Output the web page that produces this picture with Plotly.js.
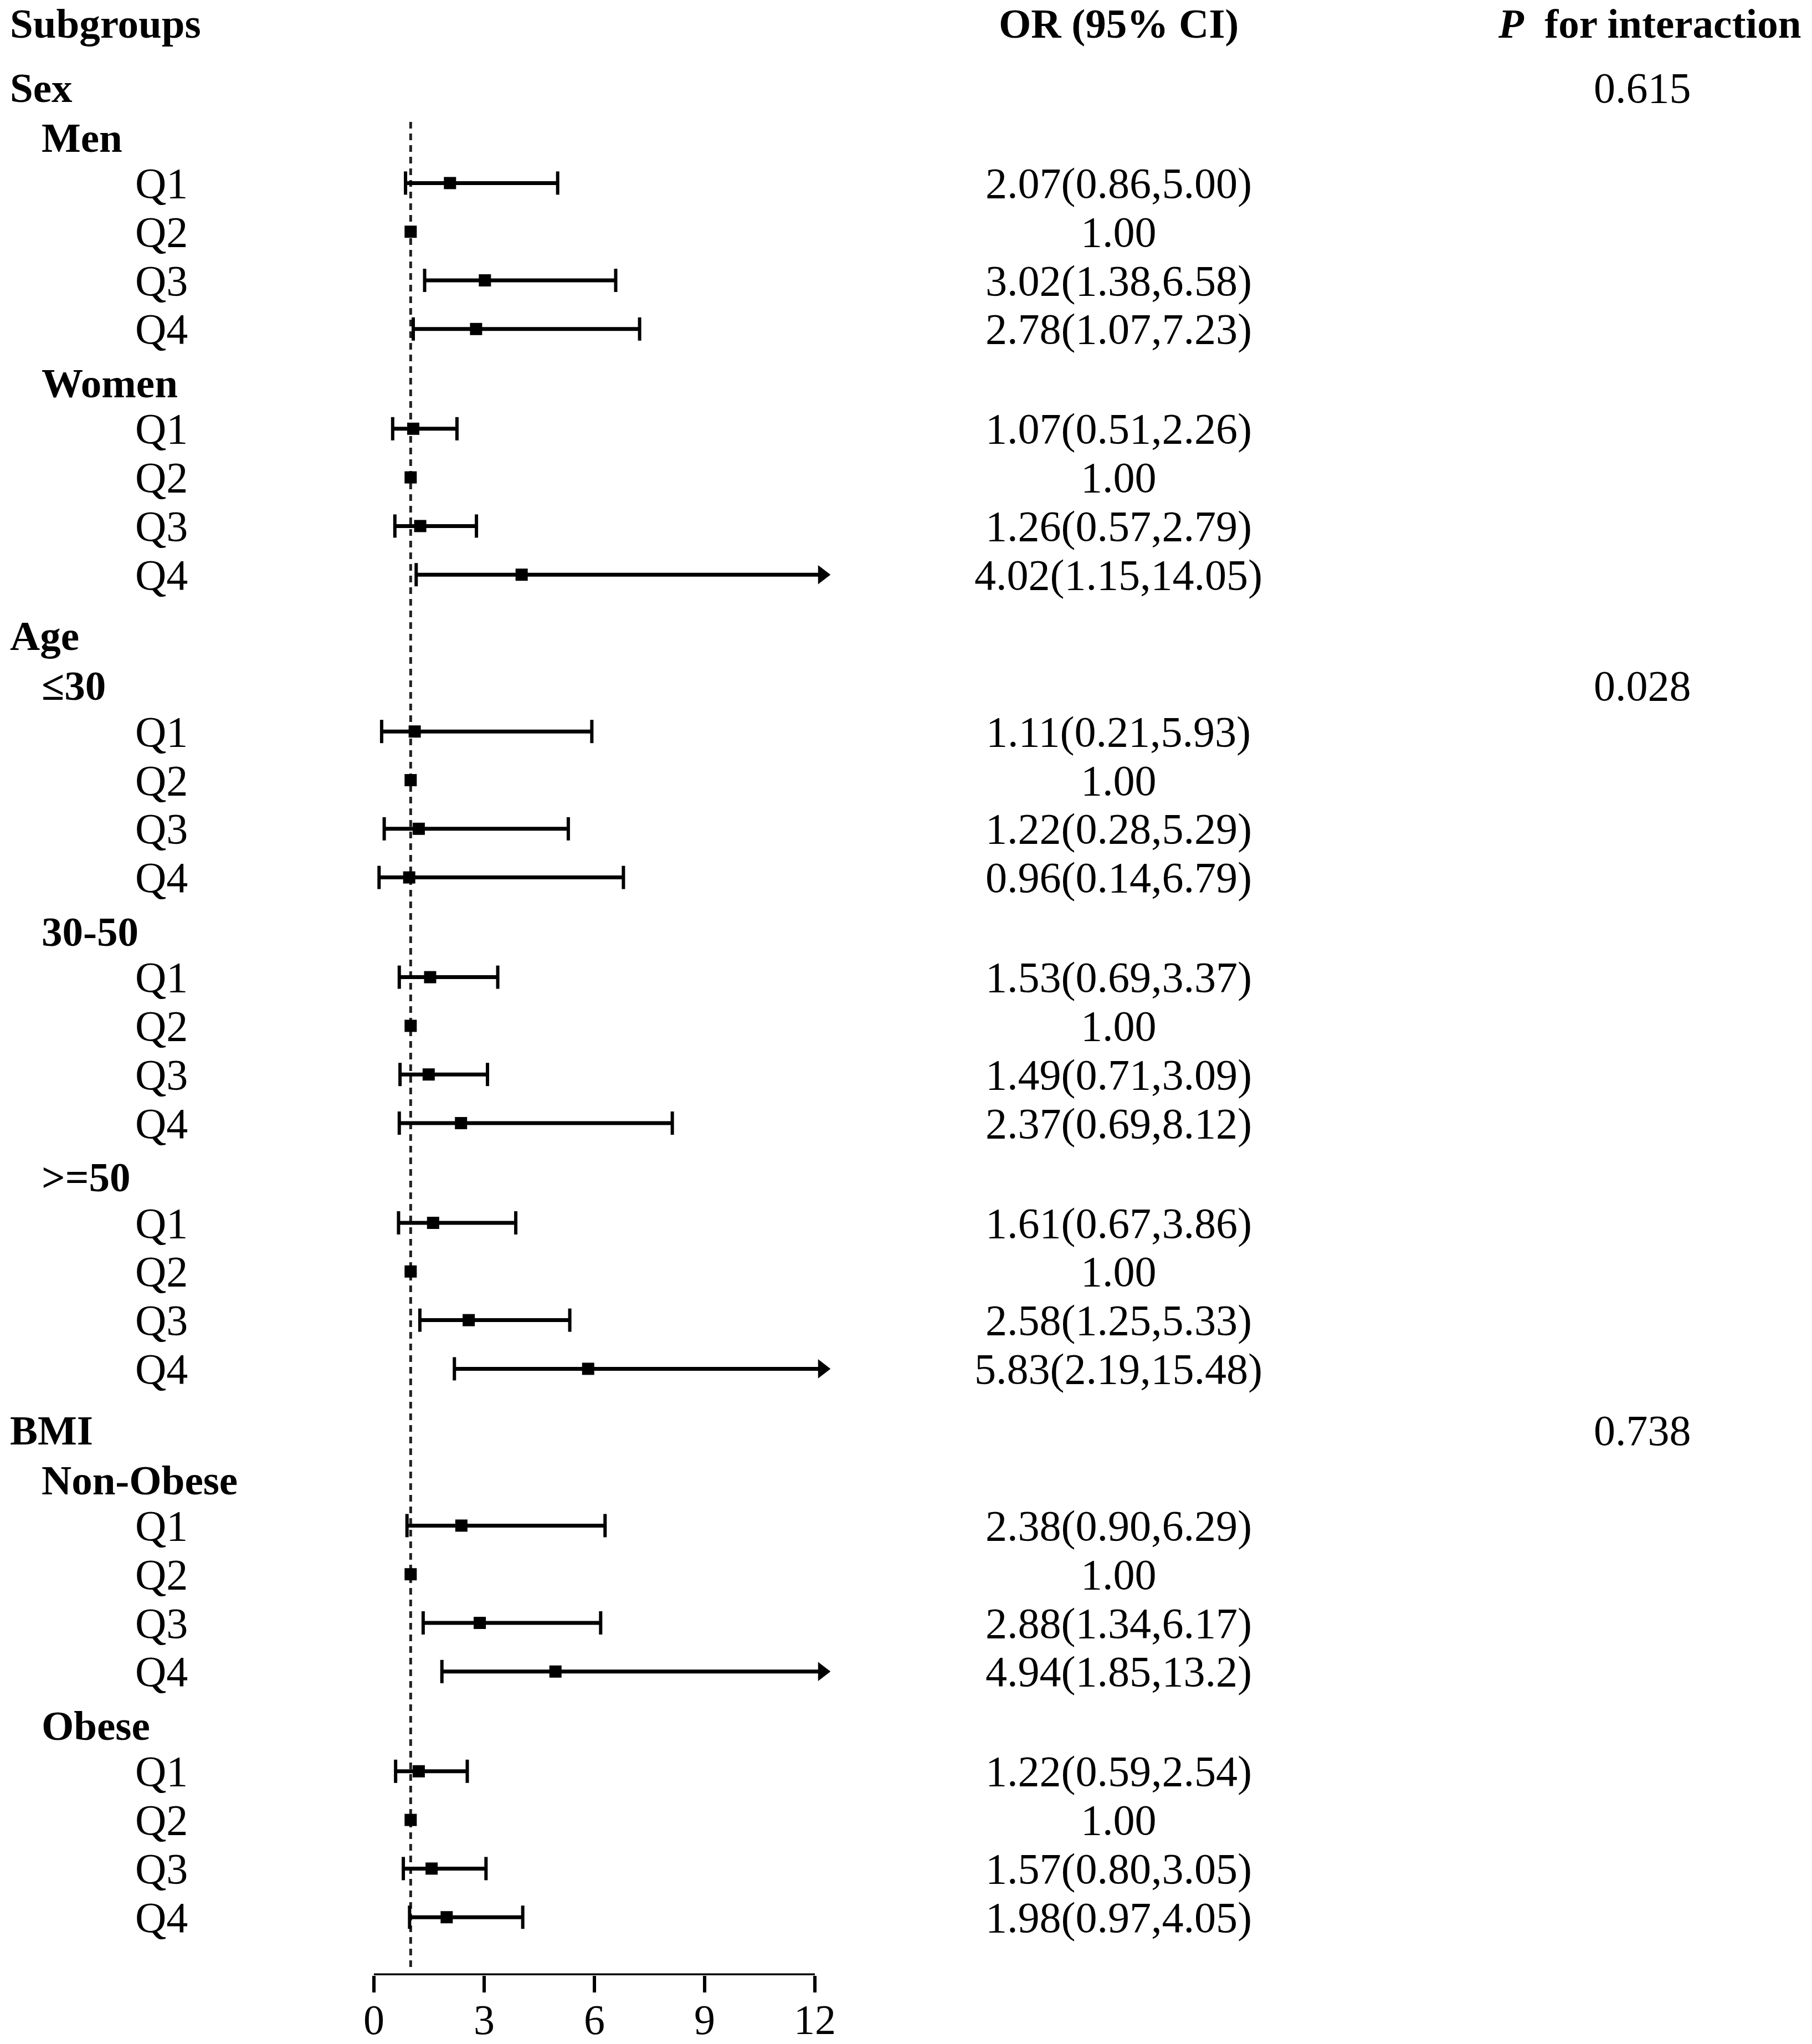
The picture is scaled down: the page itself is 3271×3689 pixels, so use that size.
<!DOCTYPE html>
<html><head><meta charset="utf-8">
<script src="https://cdn.plot.ly/plotly-3.0.1.min.js"></script>
<style>html,body{margin:0;padding:0;background:#fff}</style>
</head><body><div id="chart" style="width:3271px;height:3689px"></div>
<script>
// ---------------- data ----------------
const groups = ["Sex", "Age", "BMI"];
const subgroups = [["Men", "Women"], ["≤30", "30-50", ">=50"], ["Non-Obese", "Obese"]];
const quartiles = ["Q1", "Q2", "Q3", "Q4"];
const orValues = [2.07, 1.00, 3.02, 2.78,  1.07, 1.00, 1.26, 4.02,
                  1.11, 1.00, 1.22, 0.96,  1.53, 1.00, 1.49, 2.37,
                  1.61, 1.00, 2.58, 5.83,  2.38, 1.00, 2.88, 4.94,
                  1.22, 1.00, 1.57, 1.98];
const ciLower = [0.86, null, 1.38, 1.07,  0.51, null, 0.57, 1.15,
                 0.21, null, 0.28, 0.14,  0.69, null, 0.71, 0.69,
                 0.67, null, 1.25, 2.19,  0.90, null, 1.34, 1.85,
                 0.59, null, 0.80, 0.97];
const ciUpper = [5.00, null, 6.58, 7.23,  2.26, null, 2.79, 14.05,
                 5.93, null, 5.29, 6.79,  3.37, null, 3.09, 8.12,
                 3.86, null, 5.33, 15.48, 6.29, null, 6.17, 13.2,
                 2.54, null, 3.05, 4.05];
const orLabels = ["2.07(0.86,5.00)", "1.00", "3.02(1.38,6.58)", "2.78(1.07,7.23)",
                  "1.07(0.51,2.26)", "1.00", "1.26(0.57,2.79)", "4.02(1.15,14.05)",
                  "1.11(0.21,5.93)", "1.00", "1.22(0.28,5.29)", "0.96(0.14,6.79)",
                  "1.53(0.69,3.37)", "1.00", "1.49(0.71,3.09)", "2.37(0.69,8.12)",
                  "1.61(0.67,3.86)", "1.00", "2.58(1.25,5.33)", "5.83(2.19,15.48)",
                  "2.38(0.90,6.29)", "1.00", "2.88(1.34,6.17)", "4.94(1.85,13.2)",
                  "1.22(0.59,2.54)", "1.00", "1.57(0.80,3.05)", "1.98(0.97,4.05)"];
const pValues = ["0.615", "0.028", "0.738"];
const pRows = ["Sex", "≤30", "BMI"];
const xTicks = [0, 3, 6, 9, 12];
const refValue = 1;
const headerLabels = ["Subgroups", "OR (95% CI)", "<i>P</i>  for interaction"];

// ---------------- layout helpers ----------------
const W = 3271, H = 3689;
const axisPx = 3565;            // pixel row of the x axis line
const x0px = 675, x12px = 1471; // pixel of 0 and 12
const xMax = 12.6;
const pxPerUnit = (x12px - x0px) / 12;
const xCap = 12.2;              // where truncated CIs end (arrow)
const FONT = "Liberation Serif, 'Times New Roman', serif";
const SZ = 78, SZB = 75;
const gap = {qq: 87.8, subQ: 82.4, qSub: 97.6, qGroup: 110.6, groupSub: 90};
const firstRow = 158, headerY = 42;
const indent = {group: 16, sub: 73, item: 242};
const orCenter = 2019, pCenter = 2965, pHeaderCenter = 2977;

let rows = [], y = firstRow, prev = null, k = 0;
groups.forEach((g, gi) => {
  if (prev) y += gap.qGroup;
  rows.push({type: 'group', label: g, y}); prev = 'group';
  subgroups[gi].forEach(s => {
    y += prev === 'group' ? gap.groupSub : gap.qSub;
    rows.push({type: 'sub', label: s, y}); prev = 'sub';
    quartiles.forEach(q => {
      y += prev === 'sub' ? gap.subQ : gap.qq;
      rows.push({type: 'item', label: q, y, i: k++}); prev = 'item';
    });
  });
});
const items = rows.filter(r => r.type === 'item');
const axisMax = xTicks[xTicks.length - 1];

// CI segments
const segX = [], segY = [];
const capX = [], capY = [];
const arrX = [], arrY = [];
items.forEach(r => {
  const lo = ciLower[r.i], hi = ciUpper[r.i];
  if (lo == null || hi == null) return;
  const end = hi > axisMax ? xCap : hi;
  segX.push(lo, end, null); segY.push(r.y, r.y, null);
  capX.push(lo); capY.push(r.y);
  if (hi > axisMax) { arrX.push(xCap); arrY.push(r.y); }
  else { capX.push(hi); capY.push(r.y); }
});

const traces = [
  {type: 'scatter', mode: 'lines', x: segX, y: segY, line: {color: '#000', width: 7},
   hoverinfo: 'skip', showlegend: false},
  {type: 'scatter', mode: 'markers', x: capX, y: capY, cliponaxis: false,
   marker: {symbol: 'line-ns', size: 30, line: {color: '#000', width: 6}},
   hoverinfo: 'skip', showlegend: false},
  {type: 'scatter', mode: 'markers', x: arrX, y: arrY, cliponaxis: false,
   marker: {symbol: 'triangle-right', size: 30, color: '#000'},
   hoverinfo: 'skip', showlegend: false},
  {type: 'scatter', mode: 'markers', x: items.map(r => orValues[r.i]), y: items.map(r => r.y),
   cliponaxis: false, marker: {symbol: 'square', size: 22, color: '#000'},
   showlegend: false}
];

const ann = [];
const px = v => v / W;
const bfont = {family: FONT, size: SZB, color: '#000'};
const rfont = {family: FONT, size: SZ, color: '#000'};
// headers
ann.push({text: '<b>' + headerLabels[0] + '</b>', x: px(indent.group), xanchor: 'left', y: headerY, font: bfont});
ann.push({text: '<b>' + headerLabels[1] + '</b>', x: px(orCenter), xanchor: 'center', y: headerY, font: bfont});
ann.push({text: '<b>' + headerLabels[2] + '</b>', x: px(pHeaderCenter), xanchor: 'center', y: headerY, font: bfont});
rows.forEach(r => {
  const bold = r.type !== 'item';
  ann.push({text: bold ? '<b>' + r.label + '</b>' : r.label, x: px(indent[r.type]),
            xanchor: 'left', y: r.y, font: bold ? bfont : rfont});
  if (r.type === 'item') {
    ann.push({text: orLabels[r.i], x: px(orCenter), xanchor: 'center', y: r.y, font: rfont});
  }
  const pi = pRows.indexOf(r.label);
  if (pi >= 0) ann.push({text: pValues[pi], x: px(pCenter), xanchor: 'center', y: r.y, font: rfont});
});
ann.forEach(a => Object.assign(a, {xref: 'paper', yref: 'y', yanchor: 'middle', showarrow: false}));

const shapes = [
  {type: 'line', xref: 'x', yref: 'y', x0: refValue, x1: refValue,
   y0: rows[1].y - 28, y1: axisPx - 12, layer: 'below',
   line: {color: '#222', width: 5, dash: '12px,9px'}},
  {type: 'line', xref: 'x', yref: 'y', x0: xTicks[0], x1: axisMax, y0: axisPx, y1: axisPx,
   line: {color: '#000', width: 7}}
];

const layout = {
  width: W, height: H,
  margin: {l: 0, r: 0, t: 0, b: 0},
  paper_bgcolor: '#fff', plot_bgcolor: '#fff',
  showlegend: false,
  xaxis: {
    domain: [x0px / W, (x0px + xMax * pxPerUnit) / W],
    range: [0, xMax], tickvals: xTicks, ticktext: xTicks.map(String),
    ticks: 'outside', ticklen: 30, tickwidth: 6, tickcolor: '#000',
    ticklabelstandoff: -16,
    showline: false, showgrid: false, zeroline: false,
    tickfont: {family: FONT, size: 76, color: '#000'}, automargin: false
  },
  yaxis: {
    domain: [(H - axisPx) / H, 1], range: [axisPx, 0],
    visible: false, showgrid: false, zeroline: false, automargin: false
  },
  annotations: ann,
  shapes: shapes
};

Plotly.newPlot('chart', traces, layout, {displayModeBar: false, staticPlot: true});
</script></body></html>
